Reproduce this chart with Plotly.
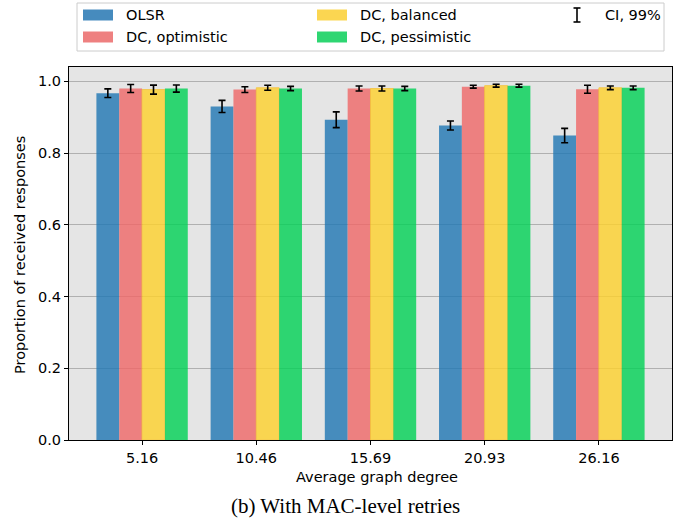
import plotly.graph_objects as go

# ---------------- data ----------------
categories = ["5.16", "10.46", "15.69", "20.93", "26.16"]
series_names = ["OLSR", "DC, optimistic", "DC, balanced", "DC, pessimistic"]
olsr = [0.967, 0.930, 0.893, 0.877, 0.849]
olsr_err = [0.012, 0.017, 0.022, 0.0125, 0.020]
dc_opt = [0.980, 0.977, 0.980, 0.985, 0.978]
dc_opt_err = [0.011, 0.008, 0.007, 0.004, 0.011]
dc_bal = [0.977, 0.982, 0.980, 0.988, 0.982]
dc_bal_err = [0.0125, 0.007, 0.007, 0.004, 0.005]
dc_pes = [0.980, 0.980, 0.980, 0.988, 0.982]
dc_pes_err = [0.010, 0.006, 0.006, 0.004, 0.005]
ci_label = "CI, 99%"
x_title = "Average graph degree"
y_title = "Proportion of received responses"
caption = "(b) With MAC-level retries"

values = [olsr, dc_opt, dc_bal, dc_pes]
errors = [olsr_err, dc_opt_err, dc_bal_err, dc_pes_err]
colors = ["#1f77b4", "#f06767", "#ffd22c", "#00d255"]
legend_colors = ["#468bbe", "#ee8080", "#fbd651", "#2ed672"]
edge_colors = ["rgba(0,0,0,0)", "rgba(0,0,0,0)", "#f7c02a", "rgba(0,0,0,0)"]

W, H = 688, 521
L, R, T, B = 69, 16, 67, 81
PW, PH = W - L - R, H - T - B


def px(x):
    return (x - L) / PW


def py(y):
    return (H - B - y) / PH


FS = 14.5
xpos = list(range(len(categories)))
fig = go.Figure()
for name, v, e, c, ec in zip(series_names, values, errors, colors, edge_colors):
    fig.add_trace(go.Bar(
        x=xpos, y=v, name=name,
        marker=dict(color=c, opacity=0.8, line=dict(color=ec, width=1)),
        error_y=dict(type="data", array=e, visible=True, color="black",
                     thickness=1.6, width=3.5),
        showlegend=False,
    ))

font_main = "DejaVu Sans, Arial, sans-serif"
fig.update_layout(
    width=W, height=H,
    margin=dict(l=L, r=R, t=T, b=B, pad=0),
    paper_bgcolor="white",
    plot_bgcolor="#e5e5e5",
    barmode="group", bargap=0.2, bargroupgap=0.0,
    font=dict(family=font_main, size=FS, color="black"),
    xaxis=dict(
        range=[-0.64, 4.64], tickvals=xpos, ticktext=categories,
        showgrid=False, zeroline=False,
        showline=True, linecolor="black", linewidth=1.2, mirror=True,
        ticks="outside", ticklen=4, tickcolor="black", tickwidth=1,
        tickfont=dict(size=FS, family=font_main),
    ),
    yaxis=dict(
        range=[0, 1.04], dtick=0.2, tickformat=".1f",
        showgrid=True, gridcolor="#b0b0b0", gridwidth=1.2, zeroline=False,
        showline=True, linecolor="black", linewidth=1.2, mirror=True,
        ticks="outside", ticklen=4, tickcolor="black", tickwidth=1,
        tickfont=dict(size=FS, family=font_main),
    ),
)

annotations = [
    dict(x=px(377), y=py(477), xref="paper", yref="paper", text=x_title,
         showarrow=False, xanchor="center", yanchor="middle",
         font=dict(size=FS, family=font_main)),
    dict(x=px(20), y=py(255), xref="paper", yref="paper", text=y_title,
         showarrow=False, textangle=-90, xanchor="center", yanchor="middle",
         font=dict(size=FS, family=font_main)),
    dict(x=px(345), y=py(506), xref="paper", yref="paper", text=caption,
         showarrow=False, xanchor="center", yanchor="middle",
         font=dict(size=21, family="Liberation Serif, Times New Roman, serif")),
]

shapes = [
    dict(type="rect", xref="paper", yref="paper",
         x0=px(77), x1=px(664), y0=py(51), y1=py(3),
         fillcolor="white", line=dict(color="#cccccc", width=1), layer="above"),
]

# legend entries (column-major: OLSR, optimistic | balanced, pessimistic)
leg_pos = [(83, 15), (83, 37), (317, 15), (317, 37)]
for name, c, (lx, ly) in zip(series_names, legend_colors, leg_pos):
    shapes.append(dict(type="rect", xref="paper", yref="paper",
                       x0=px(lx), x1=px(lx + 30), y0=py(ly + 5.5), y1=py(ly - 5.5),
                       fillcolor=c, line=dict(width=0), layer="above"))
    annotations.append(dict(x=px(lx + 41), y=py(ly), xref="paper", yref="paper",
                            text=name, showarrow=False, xanchor="left",
                            yanchor="middle", font=dict(size=FS, family=font_main)))

# CI glyph
cx, cy = 577, 15
shapes += [
    dict(type="line", xref="paper", yref="paper", x0=px(cx), x1=px(cx),
         y0=py(cy - 7), y1=py(cy + 7), line=dict(color="black", width=1.6), layer="above"),
    dict(type="line", xref="paper", yref="paper", x0=px(cx - 3.5), x1=px(cx + 3.5),
         y0=py(cy - 7), y1=py(cy - 7), line=dict(color="black", width=1.6), layer="above"),
    dict(type="line", xref="paper", yref="paper", x0=px(cx - 3.5), x1=px(cx + 3.5),
         y0=py(cy + 7), y1=py(cy + 7), line=dict(color="black", width=1.6), layer="above"),
]
annotations.append(dict(x=px(603), y=py(cy), xref="paper", yref="paper",
                        text=ci_label, showarrow=False, xanchor="left",
                        yanchor="middle", font=dict(size=FS, family=font_main)))

fig.update_layout(annotations=annotations, shapes=shapes)
fig.write_html("out.html")
